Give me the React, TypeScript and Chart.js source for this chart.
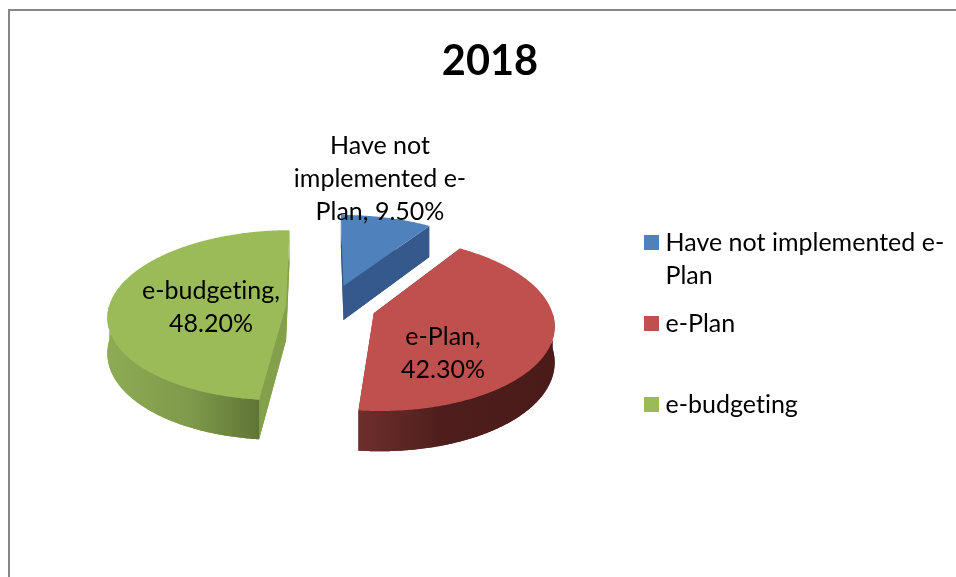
import React, { useEffect, useRef } from "react";
import { Chart, registerables } from "chart.js";

Chart.register(...registerables);

const titleText = "2018";
const categories: string[][] = [["Have not implemented e-", "Plan"], ["e-Plan", ""], ["e-budgeting"]];
const shareValues = [9.5, 42.3, 48.2];
const sliceColors = ["#4f81bd", "#c0504d", "#9bbb59"];
const cutColors = ["#34598a", "#5a2320", "#84a04b"];
const explodeOffsets = [180, 180, 180];
const dataLabelHeads = [["Have not", "implemented e-", "Plan, "], ["e-Plan,", ""], ["e-budgeting,", ""]];

const FONT = "Lato, Carlito, sans-serif";
const TILT = 0.475;
const PERSPECTIVE = 0.12;
const DEPTH = 35;

const sideStops: [number, string][][] = [
  [[0, "#34598a"], [1, "#34598a"]],
  [[0, "#6e2f2c"], [0.42, "#4f1e1c"], [1, "#4a1b19"]],
  [[0, "#8dab54"], [0.45, "#7f9a4b"], [0.83, "#5f7537"], [1, "#5f7537"]],
];

const pie3d = {
  id: "pie3d",
  beforeDraw(chart: any) {
    (chart.ctx as any).letterSpacing = "0.01px";
  },
  beforeDatasetDraw(chart: any, args: any) {
    const ctx = chart.ctx as CanvasRenderingContext2D;
    const arcs = args.meta.data as any[];
    const order = [0, 2, 1];
    order.forEach((i) => {
      const arc = arcs[i];
      const R = arc.outerRadius;
      const mid = (arc.startAngle + arc.endAngle) / 2;
      const e = arc.options.offset / 4 / R;
      const pt = (a: number, r: number, lift: number) => {
        const U = Math.cos(mid) * e + Math.cos(a) * r;
        const V = Math.sin(mid) * e + Math.sin(a) * r;
        const w = 1 - PERSPECTIVE * V;
        return [arc.x + (R * U) / w, arc.y + (TILT * R * V) / w + (lift * DEPTH) / w];
      };
      const sweep = () => {
        const out: number[] = [];
        const n = Math.ceil((arc.endAngle - arc.startAngle) / 0.01);
        for (let k = 0; k <= n; k++) out.push(arc.startAngle + ((arc.endAngle - arc.startAngle) * k) / n);
        return out;
      };
      const fillPoly = (points: number[][], style: string | CanvasGradient) => {
        ctx.beginPath();
        points.forEach((p, j) => (j ? ctx.lineTo(p[0], p[1]) : ctx.moveTo(p[0], p[1])));
        ctx.closePath();
        ctx.fillStyle = style;
        ctx.fill();
      };
      const angles = sweep();
      const top = angles.map((a) => pt(a, 1, 0));
      const bottom = angles.map((a) => pt(a, 1, 1));
      const front = angles.filter((a) => Math.sin(a) > 0);
      const xs = top.map((p) => p[0]);
      const grad = ctx.createLinearGradient(Math.min(...xs), 0, Math.max(...xs), 0);
      sideStops[i].forEach(([s, c]) => grad.addColorStop(s, c));

      ctx.save();
      fillPoly([pt(mid, 0, 1), ...bottom], cutColors[i]);
      fillPoly([pt(mid, 0, 0), top[0], bottom[0], pt(mid, 0, 1)], cutColors[i]);
      fillPoly([pt(mid, 0, 0), top[top.length - 1], bottom[bottom.length - 1], pt(mid, 0, 1)], cutColors[i]);
      if (front.length) {
        fillPoly([...front.map((a) => pt(a, 1, 0)), ...front.slice().reverse().map((a) => pt(a, 1, 1))], grad);
      }
      fillPoly([pt(mid, 0, 0), ...top], arc.options.backgroundColor);
      ctx.restore();
    });
    return false;
  },
  afterDatasetsDraw(chart: any) {
    const ctx = chart.ctx as CanvasRenderingContext2D;
    const labelCenters = [[380, 179], [443, 353.5], [211, 307.5]];
    ctx.save();
    ctx.font = `25px ${FONT}`;
    ctx.fillStyle = "#000000";
    ctx.textAlign = "center";
    ctx.textBaseline = "middle";
    shareValues.forEach((v, i) => {
      const pct = `${v.toFixed(2)}%`;
      const lines = dataLabelHeads[i].map((l, k, all) => (k === all.length - 1 ? l + pct : l));
      const y0 = labelCenters[i][1] - ((lines.length - 1) * 33) / 2;
      lines.forEach((l, k) => ctx.fillText(l, labelCenters[i][0], y0 + k * 33));
    });
    ctx.restore();
  },
  afterLayout(chart: any) {
    const legend = chart.legend;
    const w = legend.right - legend.left;
    const h = legend.bottom - legend.top;
    legend.left = 635;
    legend.right = 635 + w;
    legend.top = 215;
    legend.bottom = 215 + h;
    chart.chartArea.left = 101;
    chart.chartArea.right = 561;
    chart.chartArea.width = 460;
  },
};

export default function App() {
  const ref = useRef<HTMLCanvasElement>(null);
  useEffect(() => {
    const chart = new Chart(ref.current as HTMLCanvasElement, {
      type: "pie",
      data: {
        labels: categories as any,
        datasets: [
          {
            data: shareValues,
            backgroundColor: sliceColors,
            borderWidth: 0,
            offset: explodeOffsets,
            rotation: -0.5,
          } as any,
        ],
      },
      options: {
        responsive: false,
        animation: false,
        events: [],
        radius: 177,
        layout: { padding: { left: 24, right: 0, top: 0, bottom: 51 } },
        plugins: {
          title: {
            display: true,
            text: titleText,
            color: "#000000",
            font: { family: FONT, size: 41.5, weight: "bold", lineHeight: 1.157 },
            padding: { top: 38, bottom: 0 },
          },
          tooltip: { enabled: false },
          legend: {
            position: "right",
            align: "start",
            labels: {
              boxWidth: 3,
              boxHeight: 3,
              padding: 15,
              color: "#000000",
              font: { family: FONT, size: 25, lineHeight: 1.32 },
              generateLabels: (c: any) =>
                (Chart as any).overrides.pie.plugins.legend.labels
                  .generateLabels(c)
                  .map((it: any) => ({ ...it, lineWidth: 12, strokeStyle: it.fillStyle })),
            },
          },
        },
      } as any,
      plugins: [pie3d as any],
    });
    return () => chart.destroy();
  }, []);
  return (
    <div style={{ position: "fixed", left: 0, top: 0, width: 956, height: 577, overflow: "hidden", background: "#fff" }}>
      <canvas ref={ref} width={956} height={577} style={{ position: "absolute", left: 0, top: 0 }} />
      <div
        style={{
          position: "absolute",
          left: 8,
          top: 9,
          width: 1000,
          height: 1000,
          borderLeft: "2px solid #868686",
          borderTop: "2px solid #868686",
        }}
      />
    </div>
  );
}
